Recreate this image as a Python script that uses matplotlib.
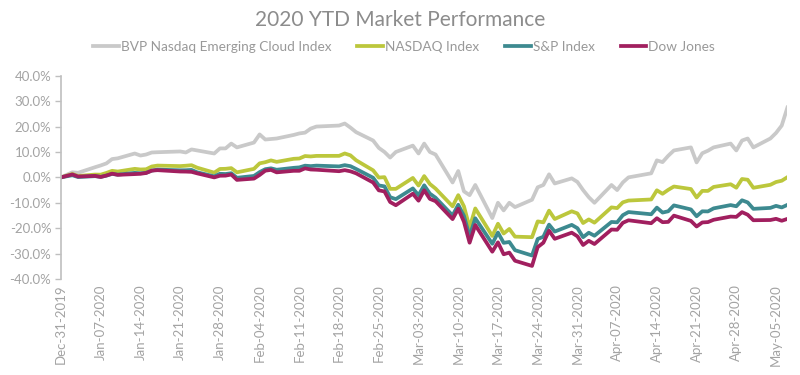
# 2020 YTD market performance, % change from Dec-31-2019 close
import numpy as np
import pandas as pd
import matplotlib
matplotlib.use('Agg')
import matplotlib.pyplot as plt
import matplotlib.dates as mdates
from matplotlib.ticker import FuncFormatter

dates = ['2019-12-31',
         '2020-01-02', '2020-01-03', '2020-01-06', '2020-01-07', '2020-01-08', '2020-01-09', '2020-01-10',
         '2020-01-13', '2020-01-14', '2020-01-15', '2020-01-16', '2020-01-17', '2020-01-21', '2020-01-22',
         '2020-01-23', '2020-01-24', '2020-01-27', '2020-01-28', '2020-01-29', '2020-01-30', '2020-01-31',
         '2020-02-03', '2020-02-04', '2020-02-05', '2020-02-06', '2020-02-07', '2020-02-10', '2020-02-11',
         '2020-02-12', '2020-02-13', '2020-02-14', '2020-02-18', '2020-02-19', '2020-02-20', '2020-02-21',
         '2020-02-24', '2020-02-25', '2020-02-26', '2020-02-27', '2020-02-28', '2020-03-02', '2020-03-03',
         '2020-03-04', '2020-03-05', '2020-03-06', '2020-03-09', '2020-03-10', '2020-03-11', '2020-03-12',
         '2020-03-13', '2020-03-16', '2020-03-17', '2020-03-18', '2020-03-19', '2020-03-20', '2020-03-23',
         '2020-03-24', '2020-03-25', '2020-03-26', '2020-03-27', '2020-03-30', '2020-03-31', '2020-04-01',
         '2020-04-02', '2020-04-03', '2020-04-06', '2020-04-07', '2020-04-08', '2020-04-09', '2020-04-13',
         '2020-04-14', '2020-04-15', '2020-04-16', '2020-04-17', '2020-04-20', '2020-04-21', '2020-04-22',
         '2020-04-23', '2020-04-24', '2020-04-27', '2020-04-28', '2020-04-29', '2020-04-30', '2020-05-01',
         '2020-05-04', '2020-05-05', '2020-05-06', '2020-05-07']

# cloud index, % change
cloud_pct = [0.0,
             2.0, 1.8, 4.0, 4.7, 5.5, 7.2, 7.5,
             9.4, 8.6, 9.0, 9.8, 9.9, 10.2, 9.8,
             11.0, 10.6, 9.4, 11.4, 11.4, 13.3, 11.8,
             13.7, 16.9, 14.9, 15.1, 15.3, 16.7, 17.3,
             17.6, 19.2, 20.0, 20.4, 21.2, 19.6, 17.8,
             14.5, 11.6, 10.0, 7.8, 10.0, 12.5, 9.4,
             13.3, 10.0, 9.0, -2.0, 2.5, -5.5, -7.0,
             -3.0, -16.0, -10.0, -13.0, -10.0, -11.7, -8.8,
             -3.9, -3.0, 1.2, -2.4, -0.4, -1.8, -5.0,
             -7.8, -10.0, -3.0, -5.0, -2.0, 0.0, 1.6,
             6.7, 6.0, 8.5, 10.6, 11.8, 5.9, 9.5,
             10.5, 11.8, 13.3, 10.6, 14.5, 15.3, 11.8,
             15.3, 17.5, 20.4, 27.5]

# index closes
nasdaq = [8972.60,
          9092.19, 9020.77, 9071.47, 9068.58, 9129.24, 9203.43, 9178.86,
          9273.93, 9251.33, 9258.70, 9357.13, 9388.94, 9370.81, 9383.77,
          9402.48, 9314.91, 9139.31, 9269.68, 9275.16, 9298.93, 9150.94,
          9273.40, 9467.97, 9508.68, 9572.15, 9520.51, 9628.39, 9638.94,
          9725.96, 9711.97, 9731.18, 9732.74, 9817.18, 9750.97, 9576.59,
          9221.28, 8965.61, 8980.78, 8566.48, 8567.37, 8952.17, 8684.09,
          9018.09, 8738.60, 8575.62, 7950.68, 8344.25, 7952.05, 7201.80,
          7874.88, 6904.59, 7334.78, 6989.84, 7150.58, 6879.52, 6860.67,
          7417.86, 7384.30, 7797.54, 7502.38, 7774.15, 7700.10, 7360.58,
          7487.31, 7373.08, 7913.24, 7887.26, 8090.90, 8153.58, 8192.42,
          8515.74, 8393.18, 8532.36, 8650.14, 8560.73, 8263.23, 8495.38,
          8494.75, 8634.52, 8730.16, 8607.73, 8914.71, 8889.55, 8604.95,
          8710.71, 8809.12, 8854.39, 8979.66]

sp500 = [3230.78,
         3257.85, 3234.85, 3246.28, 3237.18, 3253.05, 3274.70, 3265.35,
         3288.13, 3283.15, 3289.29, 3316.81, 3329.62, 3320.79, 3321.75,
         3325.54, 3295.47, 3243.63, 3276.24, 3273.40, 3283.66, 3225.52,
         3248.92, 3297.59, 3334.69, 3345.78, 3327.71, 3352.09, 3357.75,
         3379.45, 3373.94, 3380.16, 3370.29, 3386.15, 3373.23, 3337.75,
         3225.89, 3128.21, 3116.39, 2978.76, 2954.22, 3090.23, 3003.37,
         3130.12, 3023.94, 2972.37, 2746.56, 2882.23, 2741.38, 2480.64,
         2711.02, 2386.13, 2529.19, 2398.10, 2409.39, 2304.92, 2237.40,
         2447.33, 2475.56, 2630.07, 2541.47, 2626.65, 2584.59, 2470.50,
         2526.90, 2488.65, 2663.68, 2659.41, 2749.98, 2789.82, 2761.63,
         2846.06, 2783.36, 2799.55, 2874.56, 2823.16, 2736.56, 2799.31,
         2797.80, 2836.74, 2878.48, 2863.39, 2939.51, 2912.43, 2830.71,
         2842.74, 2868.44, 2848.42, 2881.19]

dow = [28538.44,
       28868.80, 28634.88, 28703.38, 28583.68, 28745.09, 28956.90, 28823.77,
       28907.05, 28939.67, 29030.22, 29297.64, 29348.10, 29196.04, 29186.27,
       29160.09, 28989.73, 28535.80, 28722.85, 28734.45, 28859.44, 28256.03,
       28399.81, 28807.63, 29290.85, 29379.77, 29102.51, 29276.82, 29276.34,
       29551.42, 29423.31, 29398.08, 29232.19, 29348.03, 29219.98, 28992.41,
       27960.80, 27081.36, 26957.59, 25766.64, 25409.36, 26703.32, 25917.41,
       27090.86, 26121.28, 25864.78, 23851.02, 25018.16, 23553.22, 21200.62,
       23185.62, 20188.52, 21237.38, 19898.92, 20087.19, 19173.98, 18591.93,
       20704.91, 21200.55, 22552.17, 21636.78, 22327.48, 21917.16, 20943.51,
       21413.44, 21052.53, 22679.99, 22653.86, 23433.57, 23719.37, 23390.77,
       23949.76, 23504.35, 23537.68, 24242.49, 23650.44, 23018.88, 23475.82,
       23515.26, 23775.27, 24133.78, 24101.55, 24633.86, 24345.72, 23723.69,
       23749.76, 23883.09, 23664.64, 23875.89]

labels = ['BVP Nasdaq Emerging Cloud Index', 'NASDAQ Index', 'S&P Index', 'Dow Jones']
colors = ['#C9C9C9', '#BCC73C', '#3D8A90', '#A11F5F']

x = pd.to_datetime(dates)
series = [np.array(cloud_pct) / 100.0]
for closes in (nasdaq, sp500, dow):
    c = np.array(closes)
    series.append(c / c[0] - 1.0)

plt.rcParams['font.family'] = ['Lato', 'DejaVu Sans']
txt_grey = '#A3A3A3'


def pct_fmt(v, pos):
    v = round(v * 100, 1)
    if v == 0:
        v = 0.0
    return '{:.1f}%'.format(abs(v) if v == 0 else v)


fig = plt.figure(figsize=(8, 3.75), dpi=100)
ax = fig.add_axes([0.07625, 0.256, 0.908, 0.542])

for y, lab, col in zip(series, labels, colors):
    ax.plot(x, y, color=col, linewidth=2.7, label=lab, solid_joinstyle='round')

ax.set_ylim(-0.4, 0.4)
ax.set_yticks(np.arange(-0.4, 0.41, 0.1))
ax.yaxis.set_major_formatter(FuncFormatter(pct_fmt))
ax.set_xlim(pd.Timestamp('2019-12-31'), pd.Timestamp('2020-05-07'))
ax.set_xticks(pd.date_range('2019-12-31', '2020-05-05', freq='7D'))
ax.xaxis.set_major_formatter(mdates.DateFormatter('%b-%d-%Y'))

for s in ['top', 'right', 'bottom']:
    ax.spines[s].set_visible(False)
ax.spines['left'].set_color('#BFBFBF')
ax.spines['left'].set_linewidth(1.2)
ax.tick_params(axis='y', colors='#BFBFBF', labelcolor=txt_grey, labelsize=9.5, length=4, width=1, pad=3)
ax.tick_params(axis='x', length=0, labelcolor=txt_grey, labelsize=9.5, rotation=90, pad=4)

fig.text(0.5, 0.947, '2020 YTD Market Performance', ha='center', va='center',
         fontsize=15, color='#8C8C8C')
fig.legend(loc='center', bbox_to_anchor=(0.505, 0.875), ncol=4, frameon=False,
           fontsize=9.8, labelcolor='#999999', handlelength=1.9, handletextpad=0.15,
           columnspacing=1.9)

fig.savefig('out.png', dpi=100)
